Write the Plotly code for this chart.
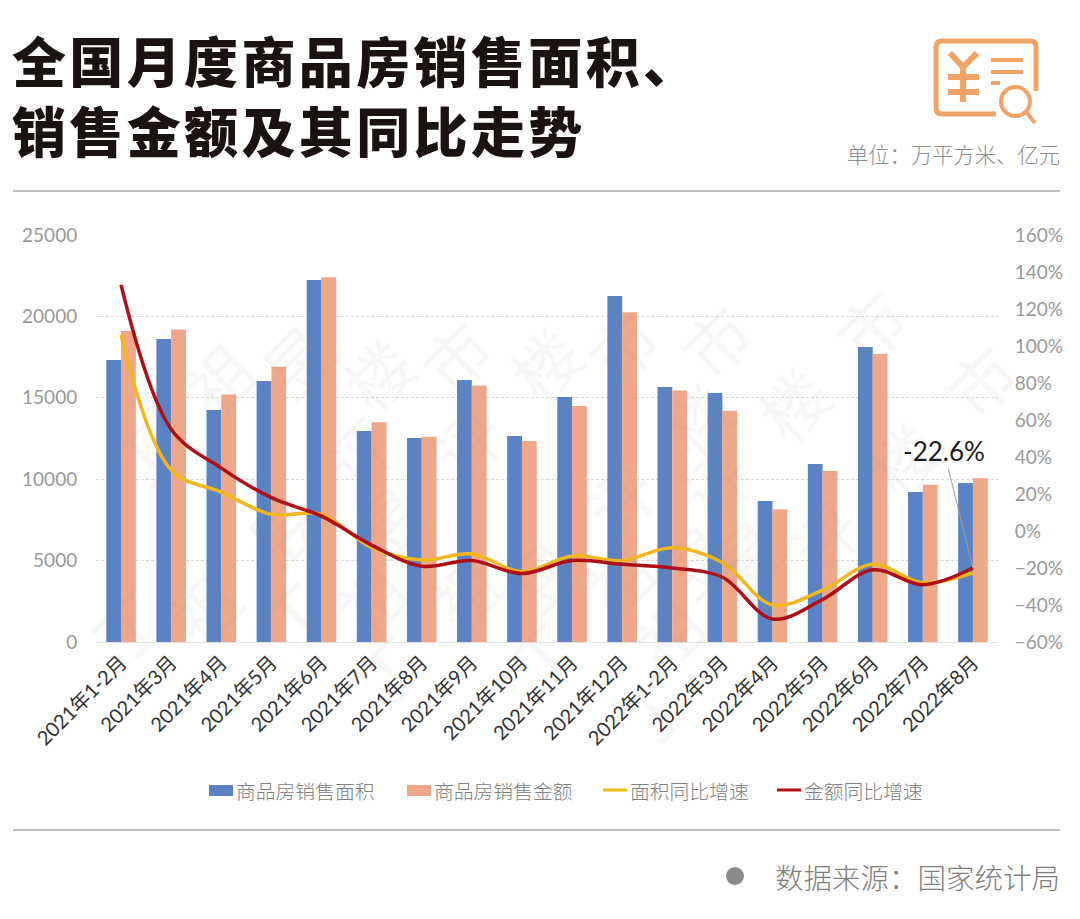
"""全国月度商品房销售面积、销售金额及其同比走势"""

import plotly.graph_objects as go
from plotly.subplots import make_subplots

W, H = 1080, 919

months = ["2021年1-2月", "2021年3月", "2021年4月", "2021年5月", "2021年6月", "2021年7月",
          "2021年8月", "2021年9月", "2021年10月", "2021年11月", "2021年12月", "2022年1-2月",
          "2022年3月", "2022年4月", "2022年5月", "2022年6月", "2022年7月", "2022年8月"]
area = [17320, 18610, 14250, 16030, 22240, 12960, 12530, 16090, 12650,
        15050, 21250, 15660, 15300, 8660, 10930, 18120, 9210, 9760]
amount = [19100, 19200, 15200, 16900, 22400, 13500, 12600, 15750, 12350,
          14500, 20250, 15450, 14200, 8150, 10500, 17700, 9660, 10060]
area_yoy = [106, 33, 21, 9, 9, -9, -15.7, -12.4, -22, -13.5,
            -16, -9, -17, -40, -32, -18, -28, -22.6]
amount_yoy = [133, 55, 34, 18, 8, -7.6, -19, -16, -23, -16,
              -18, -20, -25, -47.6, -37, -21, -29, -20]

TITLE_LINES = ["全国月度商品房销售面积、", "销售金额及其同比走势"]

# where each diagonal watermark string starts, pixels
WATERMARK_STARTS = [(80, 455), (65, 685), (232, 675), (385, 730), (540, 715), (650, 770)]
WATERMARK_CHARS = "丁祖昱评楼市"

CJK = "Noto Sans CJK SC"
LIGHT = "Lato, Noto Sans CJK SC"
ORANGE = "#F0A468"
BLUE = "#5B82C2"
SALMON = "#EFA78A"
YELLOW = "#F2B71A"
RED = "#AE0E16"


def px(x, y):
    return x / W, 1 - y / H


def path(points):
    return "M " + " L ".join("%.4f %.4f" % px(*p) for p in points)


def rule(y):
    x0, y0 = px(13, y)
    x1, _ = px(1060, y)
    return dict(type="line", xref="paper", yref="paper", x0=x0, x1=x1, y0=y0, y1=y0,
                line=dict(color="#A8A8A8", width=1.5))


def stroke(points, width, color=ORANGE):
    return dict(type="path", xref="paper", yref="paper", path=path(points),
                line=dict(color=color, width=width))


def text(x, y, s, size, color, anchor="left", family=CJK, weight=None):
    xp, yp = px(x, y)
    return dict(x=xp, y=yp, xref="paper", yref="paper", text=s, showarrow=False, xanchor=anchor,
                yanchor="middle", align=anchor, font=dict(family=family, size=size, color=color, weight=weight))


fig = make_subplots(specs=[[{"secondary_y": True}]])
fig.add_trace(go.Bar(x=months, y=area, name="商品房销售面积", marker_color=BLUE, marker_line_width=0),
              secondary_y=False)
fig.add_trace(go.Bar(x=months, y=amount, name="商品房销售金额", marker_color=SALMON, marker_line_width=0),
              secondary_y=False)
fig.add_trace(go.Scatter(x=months, y=area_yoy, mode="lines", name="面积同比增速",
                         line=dict(color=YELLOW, width=3.5, shape="spline", smoothing=1)), secondary_y=True)
fig.add_trace(go.Scatter(x=months, y=amount_yoy, mode="lines", name="金额同比增速",
                         line=dict(color=RED, width=3.5, shape="spline", smoothing=1)), secondary_y=True)

shapes = [
    rule(191), rule(830),
    # icon: card outline, yen sign, text lines, magnifier
    dict(type="path", xref="paper", yref="paper",
         path="M %.4f %.4f L %.4f %.4f Q %.4f %.4f %.4f %.4f L %.4f %.4f Q %.4f %.4f %.4f %.4f L %.4f %.4f Q %.4f %.4f %.4f %.4f L %.4f %.4f" % (
             *px(1036, 91), *px(1036, 47), *px(1036, 41), *px(1030, 41), *px(942, 41), *px(936, 41), *px(936, 47),
             *px(936, 108), *px(936, 114), *px(942, 114), *px(996, 114)),
         line=dict(color=ORANGE, width=5)),
    stroke([(950, 53), (963, 67), (977, 53)], 6),
    stroke([(963, 67), (963, 102)], 6),
    stroke([(948, 77), (979, 77)], 6),
    stroke([(948, 92), (979, 92)], 6),
    stroke([(991, 60), (1023, 60)], 4),
    stroke([(991, 72), (1023, 72)], 4),
    stroke([(991, 83), (1000, 83)], 4),
    stroke([(1027, 113), (1035, 123)], 4),
    dict(type="circle", xref="paper", yref="paper",
         x0=px(1001, 0)[0], x1=px(1030, 0)[0], y0=px(0, 116)[1], y1=px(0, 87)[1],
         line=dict(color=ORANGE, width=4), fillcolor="white"),
    dict(type="circle", xref="paper", yref="paper",
         x0=px(726, 0)[0], x1=px(744, 0)[0], y0=px(0, 885)[1], y1=px(0, 867)[1],
         line=dict(width=0), fillcolor="#8A8A8A"),
]

# hair spaces stand in for the title's letter spacing
title = "<br>".join("\u200a".join(line) for line in TITLE_LINES)
annotations = [
    text(10, 94.5, title, 54, "#1A1311", weight=900),
    text(1062, 153, "单位：万平方米、亿元", 21.3, "#8C8C8C", anchor="right", weight=300),
    text(1062, 876, "数据来源：国家统计局", 28.5, "#808080", anchor="right", weight=300),
    dict(x=months[-1], y=amount_yoy[-1], xref="x", yref="y2", text="-22.6%", showarrow=True, arrowhead=0,
         arrowwidth=1, arrowcolor="#A0A0A0", ax=-29, ay=-117, font=dict(family=LIGHT, size=26, color="#1A1A1A")),
]

# legend drawn by hand: plotly's bar swatches are too small and too far from the text
legend_items = [(209, "商品房销售面积", BLUE, True), (407, "商品房销售金额", SALMON, True),
                (603, "面积同比增速", YELLOW, False), (777, "金额同比增速", RED, False)]
for lx, label, color, is_bar in legend_items:
    if is_bar:
        shapes.append(dict(type="rect", xref="paper", yref="paper", x0=px(lx, 0)[0], x1=px(lx + 24, 0)[0],
                           y0=px(0, 796)[1], y1=px(0, 785)[1], line=dict(width=0), fillcolor=color))
    else:
        shapes.append(stroke([(lx, 790), (lx + 24, 790)], 3, color))
    annotations.append(text(lx + 25, 790, label, 19.8, "#808080", weight=300))

for sx, sy in WATERMARK_STARTS:
    for i, ch in enumerate(WATERMARK_CHARS):
        cx, cy = sx + 78 * i, sy - 78 * i
        if 240 < cy < 790 and cx < 1060:
            xp, yp = px(cx, cy)
            annotations.append(dict(x=xp, y=yp, xref="paper", yref="paper", text=ch, showarrow=False,
                                    textangle=-45,
                                    font=dict(family=CJK, size=66, color="rgba(140,140,140,0.07)")))

fig.update_layout(
    width=W, height=H,
    margin=dict(l=0, r=0, t=0, b=0),
    paper_bgcolor="white", plot_bgcolor="white",
    barmode="group", bargap=0.41, bargroupgap=0,
    showlegend=False,
    shapes=shapes, annotations=annotations,
    xaxis=dict(domain=[96 / W, 998 / W], tickangle=-45, showgrid=False, showline=True, linecolor="#E2E2E2",
               ticks="", tickfont=dict(family=LIGHT, size=20, color="#333333"), automargin=False),
)
fig.update_yaxes(range=[0, 25000], dtick=5000, tickformat="d", domain=[1 - 642 / H, 1 - 235 / H], secondary_y=False,
                 showgrid=True, griddash="3px,2px", gridcolor="#DADADA", gridwidth=1, zeroline=False,
                 ticks="outside", ticklen=14, tickcolor="rgba(0,0,0,0)",
                 tickfont=dict(family=LIGHT, size=19, color="#999999"), automargin=False)
fig.update_yaxes(range=[-60, 160], dtick=20, ticksuffix="%", domain=[1 - 642 / H, 1 - 235 / H], secondary_y=True,
                 showgrid=False, zeroline=False, ticks="outside", ticklen=12, tickcolor="rgba(0,0,0,0)",
                 tickfont=dict(family=LIGHT, size=19, color="#999999"), automargin=False)

fig.write_html("out.html", config={"displayModeBar": False}, post_script="document.body.style.margin='0';")
